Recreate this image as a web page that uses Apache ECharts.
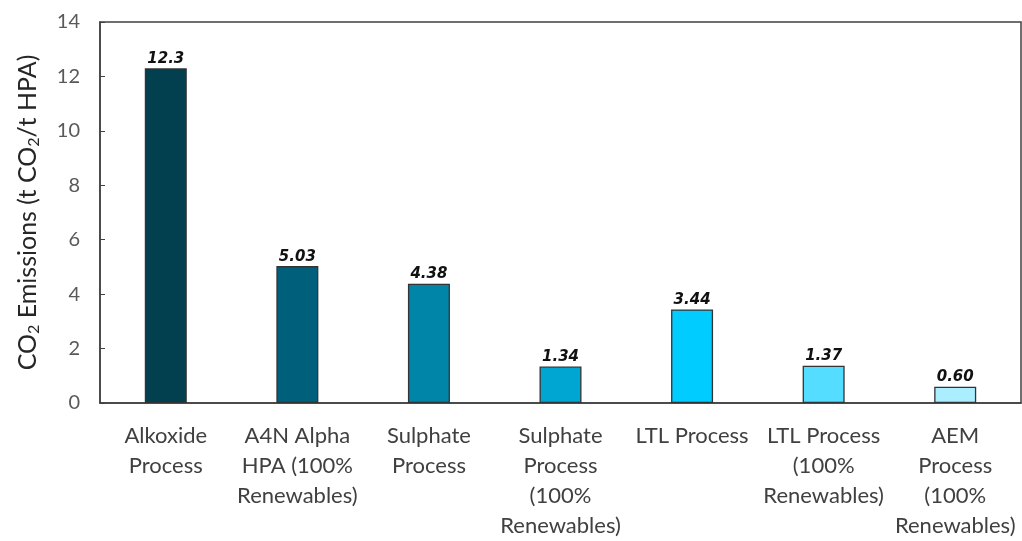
<!DOCTYPE html>
<html>
<head>
<meta charset="utf-8">
<script src="https://cdn.jsdelivr.net/npm/echarts@6/dist/echarts.min.js"></script>
<style>
html,body{margin:0;padding:0;background:#fff;}
#c{width:1022px;height:541px;}
</style>
</head>
<body>
<div id="c"></div>
<script>
const categories = [
  "Alkoxide\nProcess",
  "A4N Alpha\nHPA (100%\nRenewables)",
  "Sulphate\nProcess",
  "Sulphate\nProcess\n(100%\nRenewables)",
  "LTL Process",
  "LTL Process\n(100%\nRenewables)",
  "AEM\nProcess\n(100%\nRenewables)"
];
const values = [12.3, 5.03, 4.38, 1.34, 3.44, 1.37, 0.60];
const valueLabels = ["12.3", "5.03", "4.38", "1.34", "3.44", "1.37", "0.60"];
const barColors = ["#023F4F", "#005F7B", "#0085A8", "#00A6D2", "#00CCFF", "#55DDFF", "#AAEEFF"];
const yTicks = [0, 2, 4, 6, 8, 10, 12, 14];

const FONT = 'Lato, Open Sans, Liberation Sans, sans-serif';
const chart = echarts.init(document.getElementById('c'), null, {renderer: 'canvas'});
chart.setOption({
  animation: false,
  grid: {
    left: 100, right: 1, top: 22, bottom: 135,
    show: true, borderColor: '#404040', borderWidth: 1.5, containLabel: false
  },
  xAxis: {
    type: 'category',
    data: categories,
    axisLine: {show: true, lineStyle: {color: '#404040', width: 1.5}},
    axisTick: {show: false},
    axisLabel: {
      interval: 0,
      color: '#404040',
      fontFamily: FONT,
      fontSize: 22,
      lineHeight: 30,
      margin: 18
    }
  },
  yAxis: {
    type: 'value',
    min: yTicks[0], max: yTicks[yTicks.length - 1], interval: 2,
    splitLine: {show: false},
    axisLine: {show: true, lineStyle: {color: '#404040', width: 1.5}},
    axisTick: {show: true, inside: true, length: 5, lineStyle: {color: '#404040'}},
    axisLabel: {
      color: '#595959',
      fontFamily: FONT,
      fontSize: 20,
      margin: 20
    },
    name: '{t|CO}{s|2}{t| Emissions (t CO}{s|2}{t|/t HPA)}',
    nameLocation: 'middle',
    nameGap: 58,
    nameTextStyle: {
      rich: {
        t: {fontSize: 25, color: '#262626', fontFamily: FONT},
        s: {fontSize: 16, color: '#262626', fontFamily: FONT, padding: [12, 0, 0, 0]}
      }
    }
  },
  series: [{
    type: 'bar',
    barWidth: 42,
    data: values.map((v, i) => ({
      value: v,
      itemStyle: {color: barColors[i]}
    })),
    itemStyle: {borderColor: '#333333', borderWidth: 1.3},
    label: {
      show: true,
      position: 'top',
      distance: 2,
      formatter: p => valueLabels[p.dataIndex],
      fontFamily: 'DejaVu Sans, Verdana, sans-serif',
      fontStyle: 'italic',
      fontWeight: 'bold',
      fontSize: 15,
      color: '#111111'
    }
  }]
});
</script>
</body>
</html>
